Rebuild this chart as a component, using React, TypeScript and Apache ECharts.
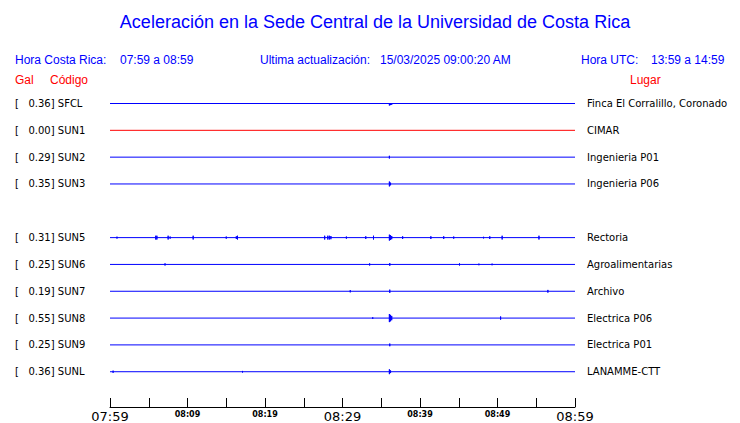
import React, { useEffect, useRef } from "react";
import * as echarts from "echarts";

// ---- data ----
const codes = ["SFCL", "SUN1", "SUN2", "SUN3", "SUN5", "SUN6", "SUN7", "SUN8", "SUN9", "SUNL"];
const rowSlots = [0, 1, 2, 3, 5, 6, 7, 8, 9, 10]; // slot 4 has no station
const galValues = ["0.36", "0.00", "0.29", "0.35", "0.31", "0.25", "0.19", "0.55", "0.25", "0.36"];
const places = [
  "Finca El Corralillo, Coronado",
  "CIMAR",
  "Ingenieria P01",
  "Ingenieria P06",
  "Rectoria",
  "Agroalimentarias",
  "Archivo",
  "Electrica P06",
  "Electrica P01",
  "LANAMME-CTT",
];
const traceColors = ["#0000ff", "#ff0000", "#0000ff", "#0000ff", "#0000ff", "#0000ff", "#0000ff", "#0000ff", "#0000ff", "#0000ff"];

// spikes per station: [minute after 07:59, half amplitude in row units]
const spikesSFCL = [[36.05, 0.075], [36.2, 0.06], [36.35, 0.05]];
const spikesSUN1: number[][] = [];
const spikesSUN2 = [[36.05, 0.05]];
const spikesSUN3 = [[36.05, 0.09], [36.2, 0.05]];
const spikesSUN5 = [
  [0.9, 0.035], [5.9, 0.07], [6.05, 0.07], [7.5, 0.07], [7.76, 0.04], [10.73, 0.07],
  [15.0, 0.04], [16.3, 0.05], [16.45, 0.07], [27.7, 0.07], [28.1, 0.07], [28.3, 0.07],
  [28.5, 0.06], [30.5, 0.04], [33.0, 0.05], [34.0, 0.07], [36.05, 0.11], [36.2, 0.09],
  [36.35, 0.06], [37.76, 0.05], [41.4, 0.05], [43.06, 0.05], [44.35, 0.04], [48.2, 0.03],
  [49.0, 0.05], [50.6, 0.07], [55.35, 0.07],
];
const spikesSUN6 = [[7.1, 0.04], [33.5, 0.04], [36.1, 0.05], [45.1, 0.04], [47.6, 0.03], [49.3, 0.03]];
const spikesSUN7 = [[31.0, 0.04], [36.1, 0.06], [56.5, 0.05]];
const spikesSUN8 = [[33.9, 0.03], [36.05, 0.15], [36.2, 0.12], [36.35, 0.08], [50.4, 0.06]];
const spikesSUN9 = [[36.1, 0.05]];
const spikesSUNL = [[0.4, 0.04], [17.1, 0.03], [36.05, 0.09], [36.2, 0.05]];
const allSpikes = [spikesSFCL, spikesSUN1, spikesSUN2, spikesSUN3, spikesSUN5, spikesSUN6, spikesSUN7, spikesSUN8, spikesSUN9, spikesSUNL];

const tickMinutes = [0, 10, 20, 30, 40, 50, 60];
const tickLabels = ["07:59", "08:09", "08:19", "08:29", "08:39", "08:49", "08:59"];
const bigTickMinutes = [0, 30, 60];

const title = "Aceleración en la Sede Central de la Universidad de Costa Rica";

export default function App() {
  const ref = useRef<HTMLDivElement>(null);
  useEffect(() => {
    if (!ref.current) return;
    const chart = echarts.init(ref.current, null, { renderer: "svg" });

    const series = codes.map((code, i) => {
      const base = rowSlots[i];
      const pts: number[][] = [[0, base]];
      allSpikes[i].forEach(([m, a]) => {
        pts.push([m, base], [m, base - a], [m, base + a], [m, base]);
      });
      pts.push([60, base]);
      return {
        type: "line",
        name: code,
        data: pts,
        showSymbol: false,
        symbol: "none",
        lineStyle: { width: 1, color: traceColors[i] },
        itemStyle: { color: traceColors[i] },
      };
    });

    const leftLabel = (v: number) => {
      const idx = rowSlots.indexOf(v);
      return idx >= 0 ? `[   ${galValues[idx]}] ${codes[idx]}` : "";
    };
    const rightLabel = (v: number) => {
      const idx = rowSlots.indexOf(v);
      return idx >= 0 ? places[idx] : "";
    };

    const headerFont = "Liberation Sans, Arial, sans-serif";
    const blue = "#0000ff";
    const red = "#ff0000";
    const yMax = 11.315;

    chart.setOption({
      animation: false,
      backgroundColor: "#ffffff",
      grid: { left: 110, right: 165, top: 103.5, bottom: 14 },
      xAxis: {
        type: "value",
        min: 0,
        max: 60,
        interval: 5,
        axisLine: { show: true, onZero: false, lineStyle: { color: "#000", width: 1 } },
        axisTick: { show: true, inside: true, length: 9, lineStyle: { color: "#000", width: 1 } },
        splitLine: { show: false },
        axisLabel: {
          margin: 2,
          showMinLabel: true,
          showMaxLabel: true,
          formatter: (v: number) => {
            const idx = tickMinutes.indexOf(v);
            if (idx < 0) return "";
            const style = bigTickMinutes.includes(v) ? "big" : "small";
            return `{${style}|${tickLabels[idx]}}`;
          },
          rich: {
            big: { fontSize: 13, fontFamily: "DejaVu Sans", color: "#000", lineHeight: 15 },
            small: { fontSize: 8, fontFamily: "DejaVu Sans", fontWeight: "bold", color: "#000", lineHeight: 11 },
          },
        },
      },
      yAxis: [
        {
          type: "value",
          inverse: true,
          min: 0,
          max: yMax,
          interval: 1,
          position: "left",
          axisLine: { show: false },
          axisTick: { show: false },
          splitLine: { show: false },
          axisLabel: {
            showMaxLabel: false,
            align: "left",
            margin: 95,
            fontSize: 10,
            fontFamily: "DejaVu Sans",
            color: "#000",
            formatter: leftLabel,
          },
        },
        {
          type: "value",
          inverse: true,
          min: 0,
          max: yMax,
          interval: 1,
          position: "right",
          axisLine: { show: false },
          axisTick: { show: false },
          splitLine: { show: false },
          axisLabel: {
            showMaxLabel: false,
            align: "left",
            margin: 12,
            fontSize: 10,
            fontFamily: "DejaVu Sans",
            color: "#000",
            formatter: rightLabel,
          },
        },
      ],
      series,
      graphic: [
        { type: "text", x: 375, y: 22, style: { text: title, fill: blue, font: `18px ${headerFont}`, textAlign: "center", textVerticalAlign: "middle" } },
        { type: "text", x: 15, y: 60, style: { text: "Hora Costa Rica:", fill: blue, font: `12px ${headerFont}`, textVerticalAlign: "middle" } },
        { type: "text", x: 120, y: 60, style: { text: "07:59 a 08:59", fill: blue, font: `12px ${headerFont}`, textVerticalAlign: "middle" } },
        { type: "text", x: 260, y: 60, style: { text: "Ultima actualización:", fill: blue, font: `12px ${headerFont}`, textVerticalAlign: "middle" } },
        { type: "text", x: 380, y: 60, style: { text: "15/03/2025 09:00:20 AM", fill: blue, font: `12px ${headerFont}`, textVerticalAlign: "middle" } },
        { type: "text", x: 581, y: 60, style: { text: "Hora UTC:", fill: blue, font: `12px ${headerFont}`, textVerticalAlign: "middle" } },
        { type: "text", x: 651, y: 60, style: { text: "13:59 a 14:59", fill: blue, font: `12px ${headerFont}`, textVerticalAlign: "middle" } },
        { type: "text", x: 15, y: 80, style: { text: "Gal", fill: red, font: `12px ${headerFont}`, textVerticalAlign: "middle" } },
        { type: "text", x: 50, y: 80, style: { text: "Código", fill: red, font: `12px ${headerFont}`, textVerticalAlign: "middle" } },
        { type: "text", x: 630, y: 80, style: { text: "Lugar", fill: red, font: `12px ${headerFont}`, textVerticalAlign: "middle" } },
      ],
    });
    return () => chart.dispose();
  }, []);
  return (
    <div
      ref={ref}
      style={{ position: "absolute", left: 0, top: 0, width: 740, height: 423, background: "#fff" }}
    />
  );
}
